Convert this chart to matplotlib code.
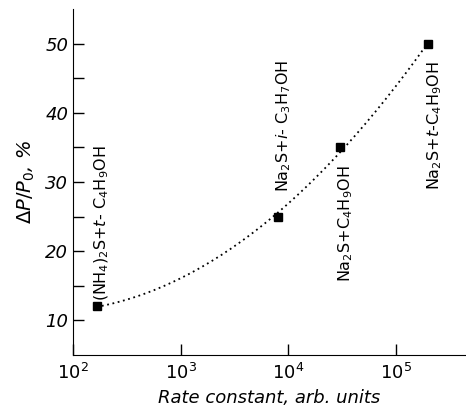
import numpy as np
import matplotlib.pyplot as plt
from matplotlib.ticker import FixedLocator, NullLocator

# Data
rate = np.array([165, 8000, 30000, 200000])
dp = np.array([12, 25, 35, 50])
labels = [r"(NH$_4$)$_2$S+$t$- C$_4$H$_9$OH",
          r"Na$_2$S+$i$- C$_3$H$_7$OH",
          r"Na$_2$S+C$_4$H$_9$OH",
          r"Na$_2$S+$t$-C$_4$H$_9$OH"]
label_pos = [(185, 12.8), (9000, 28.5), (34000, 32.5), (230000, 47.5)]
label_va = ["bottom", "bottom", "top", "top"]

plt.rcParams['mathtext.fontset'] = 'dejavusans'
fig = plt.figure(figsize=(4.66, 4.17), dpi=100)
ax = fig.add_axes([0.157, 0.149, 0.843, 0.829])

# smooth fit through the points (quadratic in log x)
lx = np.log10(rate)
c = np.polyfit(lx, dp, 2)
xs = np.linspace(lx[0], lx[-1], 200)
ax.plot(10**xs, np.polyval(c, xs), ls=(0, (1, 2)), color="black", lw=1.3)
ax.plot(rate, dp, "s", color="black", ms=6)

for lab, (x, y), va in zip(labels, label_pos, label_va):
    ax.text(x, y, lab, rotation=90, ha="center", va=va, fontsize=11.5,
            family="DejaVu Sans")

ax.set_xscale("log")
ax.set_xlim(100, 10**5.65)
ax.set_ylim(5, 55)
ax.xaxis.set_major_locator(FixedLocator([1e2, 1e3, 1e4, 1e5]))
ax.xaxis.set_minor_locator(NullLocator())
ax.set_xticklabels([r"$\mathit{10^2}$", r"$\mathit{10^3}$", r"$\mathit{10^4}$", r"$\mathit{10^5}$"],
                   fontsize=13)
ax.set_yticks([10, 20, 30, 40, 50])
ax.set_yticks([15, 25, 35, 45], minor=True)
ax.set_yticklabels(["10", "20", "30", "40", "50"], fontsize=13, style="italic")
ax.tick_params(which="both", direction="in", length=8, width=1)
ax.tick_params(axis="x", pad=6)
ax.spines["top"].set_visible(False)
ax.spines["right"].set_visible(False)
ax.set_xlabel("Rate constant, arb. units", fontsize=13, style="italic")
ax.set_ylabel(r"$\mathit{\Delta P/P_0}$, %", fontsize=14, style="italic", labelpad=6)

plt.savefig("out.png", dpi=100)
